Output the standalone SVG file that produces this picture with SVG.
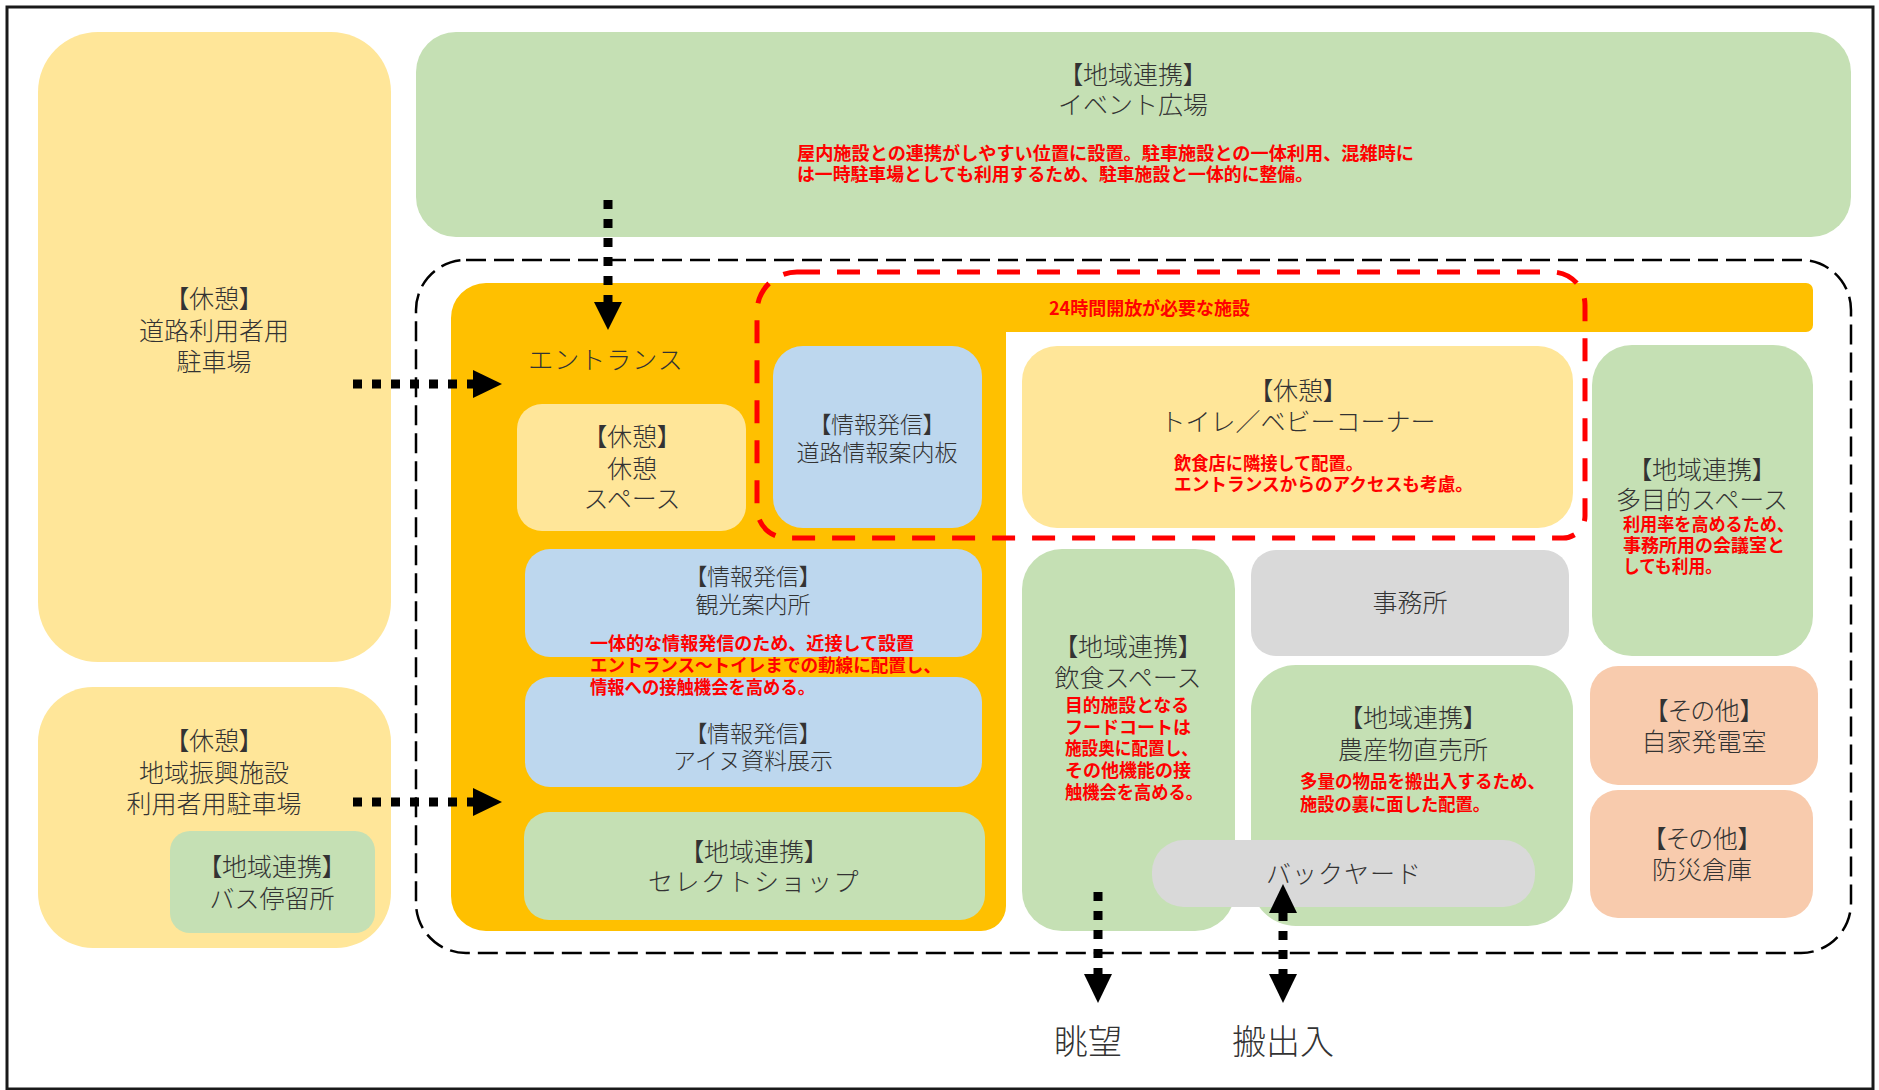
<svg xmlns="http://www.w3.org/2000/svg" width="1879" height="1090" viewBox="0 0 1879 1090">
<style>
.t{font-family:"Noto Sans CJK JP","Noto Sans",sans-serif;font-size:25px;font-weight:300;fill:#333;text-anchor:middle;dominant-baseline:central}
.s{font-size:23px}
.hd{font-feature-settings:"palt"}
.n{font-family:"Noto Sans CJK JP","Noto Sans",sans-serif;font-size:18px;font-weight:700;fill:#FF0000;dominant-baseline:central}
.big{font-size:34px}
.yel{fill:#FFE699}.grn{fill:#C5E0B4}.blu{fill:#BDD7EE}.gry{fill:#D9D9D9}.pch{fill:#F8CBAD}
.dot{stroke:#000;stroke-width:9;stroke-dasharray:9 10;fill:none}
</style>
<rect x="0" y="0" width="1879" height="1090" fill="#fff"/>
<rect x="7" y="7" width="1866" height="1082" fill="none" stroke="#1a1a1a" stroke-width="3"/>

<g id="parking-road">
<rect class="yel" x="38" y="32" width="353" height="630" rx="60"/>
<text class="t hd" x="214" y="297">【休憩】</text>
<text class="t" x="214" y="329">道路利用者用</text>
<text class="t" x="214" y="360">駐車場</text>
</g>
<g id="parking-local">
<rect class="yel" x="38" y="687" width="353" height="261" rx="55"/>
<text class="t hd" x="214" y="739">【休憩】</text>
<text class="t" x="214" y="771">地域振興施設</text>
<text class="t" x="214" y="802">利用者用駐車場</text>
</g>
<g id="bus-stop">
<rect class="grn" x="170" y="831" width="205" height="102" rx="20"/>
<text class="t hd" x="272" y="865">【地域連携】</text>
<text class="t" x="272" y="897">バス停留所</text>
</g>
<g id="event-plaza">
<rect class="grn" x="416" y="32" width="1435" height="205" rx="40"/>
<text class="t hd" x="1133" y="73">【地域連携】</text>
<text class="t" x="1133" y="103">イベント広場</text>
<text class="n" x="797" y="152" textLength="617" lengthAdjust="spacingAndGlyphs">屋内施設との連携がしやすい位置に設置。駐車施設との一体利用、混雑時に</text>
<text class="n" x="797" y="173" textLength="516" lengthAdjust="spacingAndGlyphs">は一時駐車場としても利用するため、駐車施設と一体的に整備。</text>
</g>

<g id="facility-boundary">
<rect x="416" y="260" width="1435" height="693" rx="50" fill="none" stroke="#000" stroke-width="2.5" stroke-dasharray="20 8"/>
</g>

<g id="indoor-area">
<path fill="#FFC000" d="M486,283 H1806 A7,7 0 0 1 1813,290 V325 A7,7 0 0 1 1806,332 H1006 V906 A25,25 0 0 1 981,931 H486 A35,35 0 0 1 451,896 V318 A35,35 0 0 1 486,283 Z"/>
<text class="t" x="606" y="358" letter-spacing="1">エントランス</text>
</g>

<g id="rest-space">
<rect class="yel" x="517" y="404" width="229" height="127" rx="25"/>
<text class="t hd" x="632" y="435">【休憩】</text>
<text class="t" x="632" y="467">休憩</text>
<text class="t" x="632" y="497">スペース</text>
</g>
<g id="road-info">
<rect class="blu" x="773" y="346" width="209" height="182" rx="30"/>
<text class="t s hd" x="877" y="423">【情報発信】</text>
<text class="t s" x="877" y="451">道路情報案内板</text>
</g>
<g id="tourist-info">
<rect class="blu" x="525" y="549" width="457" height="108" rx="25"/>
<text class="t s hd" x="753" y="575">【情報発信】</text>
<text class="t s" x="753" y="603">観光案内所</text>
</g>
<g id="ainu-exhibit">
<rect class="blu" x="525" y="677" width="457" height="110" rx="25"/>
<text class="t s hd" x="753" y="732">【情報発信】</text>
<text class="t s" x="753" y="759">アイヌ資料展示</text>
</g>
<g id="tourist-note">
<text class="n" x="590" y="642" textLength="324" lengthAdjust="spacingAndGlyphs">一体的な情報発信のため、近接して設置</text>
<text class="n" x="590" y="664" textLength="351" lengthAdjust="spacingAndGlyphs">エントランス～トイレまでの動線に配置し、</text>
<text class="n" x="590" y="686" textLength="225" lengthAdjust="spacingAndGlyphs">情報への接触機会を高める。</text>
</g>
<g id="select-shop">
<rect class="grn" x="524" y="812" width="461" height="108" rx="25"/>
<text class="t hd" x="754" y="850">【地域連携】</text>
<text class="t" x="754" y="880" letter-spacing="1.5">セレクトショップ</text>
</g>

<g id="toilet">
<rect class="yel" x="1022" y="346" width="551" height="182" rx="35"/>
<text class="t hd" x="1298" y="389">【休憩】</text>
<text class="t" x="1298" y="420">トイレ／ベビーコーナー</text>
<text class="n" x="1174" y="462" textLength="189" lengthAdjust="spacingAndGlyphs">飲食店に隣接して配置。</text>
<text class="n" x="1174" y="483" textLength="299" lengthAdjust="spacingAndGlyphs">エントランスからのアクセスも考慮。</text>
</g>
<g id="multipurpose">
<rect class="grn" x="1592" y="345" width="221" height="311" rx="40"/>
<text class="t hd" x="1702" y="468">【地域連携】</text>
<text class="t" x="1702" y="498">多目的スペース</text>
<text class="n" x="1623" y="523" textLength="171" lengthAdjust="spacingAndGlyphs">利用率を高めるため、</text>
<text class="n" x="1623" y="544" textLength="162" lengthAdjust="spacingAndGlyphs">事務所用の会議室と</text>
<text class="n" x="1623" y="565" textLength="99" lengthAdjust="spacingAndGlyphs">しても利用。</text>
</g>
<g id="food-space">
<rect class="grn" x="1022" y="549" width="213" height="382" rx="40"/>
<text class="t hd" x="1128" y="645">【地域連携】</text>
<text class="t" x="1128" y="676">飲食スペース</text>
<text class="n" x="1065" y="704" textLength="124" lengthAdjust="spacingAndGlyphs">目的施設となる</text>
<text class="n" x="1065" y="726" textLength="126" lengthAdjust="spacingAndGlyphs">フードコートは</text>
<text class="n" x="1065" y="747" textLength="133" lengthAdjust="spacingAndGlyphs">施設奥に配置し、</text>
<text class="n" x="1065" y="769" textLength="126" lengthAdjust="spacingAndGlyphs">その他機能の接</text>
<text class="n" x="1065" y="791" textLength="138" lengthAdjust="spacingAndGlyphs">触機会を高める。</text>
</g>
<g id="office">
<rect class="gry" x="1251" y="550" width="318" height="106" rx="25"/>
<text class="t" x="1410" y="601">事務所</text>
</g>
<g id="farm-market">
<rect class="grn" x="1251" y="665" width="322" height="261" rx="45"/>
<text class="t hd" x="1413" y="716">【地域連携】</text>
<text class="t" x="1413" y="748">農産物直売所</text>
<text class="n" x="1300" y="780" textLength="245" lengthAdjust="spacingAndGlyphs">多量の物品を搬出入するため、</text>
<text class="n" x="1300" y="803" textLength="190" lengthAdjust="spacingAndGlyphs">施設の裏に面した配置。</text>
</g>
<g id="backyard">
<rect class="gry" x="1152" y="840" width="383" height="67" rx="32"/>
<text class="t" x="1344" y="872" letter-spacing="1">バックヤード</text>
</g>
<g id="generator">
<rect class="pch" x="1590" y="666" width="228" height="119" rx="28"/>
<text class="t hd" x="1704" y="709">【その他】</text>
<text class="t" x="1704" y="740">自家発電室</text>
</g>
<g id="storage">
<rect class="pch" x="1590" y="790" width="223" height="128" rx="28"/>
<text class="t hd" x="1702" y="837">【その他】</text>
<text class="t" x="1702" y="868">防災倉庫</text>
</g>

<g id="open24">
<path d="M797,272 H1552 A33,33 0 0 1 1585,305 V516 A22,22 0 0 1 1563,538 H787 A30,30 0 0 1 757,508 V312 A40,40 0 0 1 797,272 Z" fill="none" stroke="#FF0000" stroke-width="5" stroke-dasharray="23 17"/>
<text class="n" x="1049" y="307" textLength="201" lengthAdjust="spacingAndGlyphs">24時間開放が必要な施設</text>
</g>

<g id="connectors">
<line class="dot" x1="608" y1="200" x2="608" y2="303"/>
<polygon points="594,302 622,302 608,330"/>
<line class="dot" x1="353" y1="384" x2="474" y2="384"/>
<polygon points="473,370 473,398 502,384"/>
<line class="dot" x1="353" y1="802" x2="474" y2="802"/>
<polygon points="473,788 473,816 502,802"/>
<line class="dot" x1="1098" y1="892" x2="1098" y2="975"/>
<polygon points="1084,974 1112,974 1098,1003"/>
<line class="dot" x1="1283" y1="912" x2="1283" y2="975"/>
<polygon points="1269,913 1297,913 1283,884"/>
<polygon points="1269,974 1297,974 1283,1003"/>
</g>

<g id="view">
<text class="t big" x="1088" y="1039">眺望</text>
</g>
<g id="loading">
<text class="t big" x="1283" y="1039">搬出入</text>
</g>
</svg>
